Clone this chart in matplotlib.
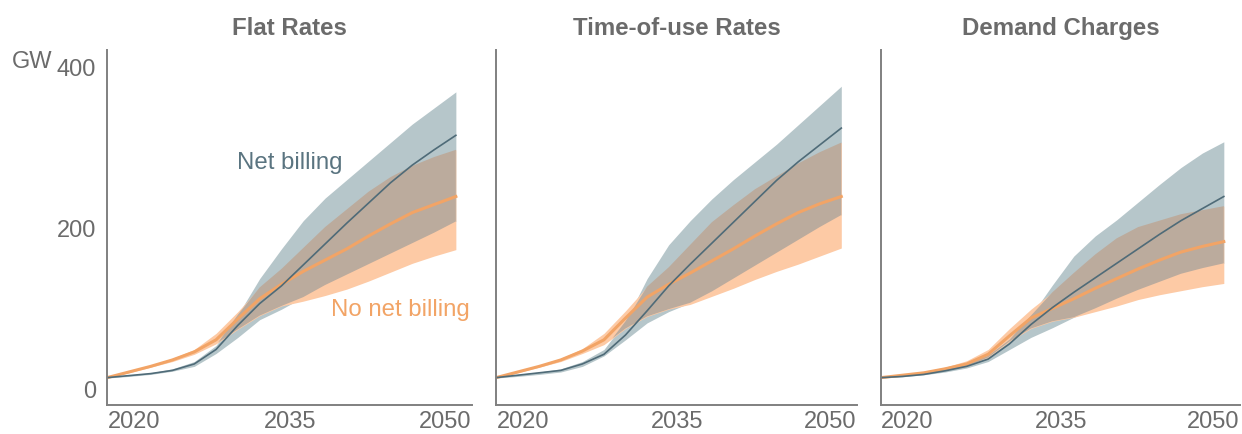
import numpy as np
import matplotlib
matplotlib.use("Agg")
import matplotlib.pyplot as plt
import matplotlib.transforms as mtransforms

plt.rcParams['font.family'] = ['Liberation Sans', 'DejaVu Sans']

years = [2018, 2020, 2022, 2024, 2026, 2028, 2030, 2032, 2034,
         2036, 2038, 2040, 2042, 2044, 2046, 2048, 2050]

titles = ["Flat Rates", "Time-of-use Rates", "Demand Charges"]

# net billing: median line and range (GW)
flat_net_mid = [15, 17.5, 20, 24, 32, 50, 80, 107, 129, 155, 181, 207, 232, 257, 279, 298, 316]
flat_net_hi = [15.5, 18.5, 21, 26, 35, 55, 93, 138, 175, 210, 238, 261, 284, 307, 330, 350, 370]
flat_net_lo = [14.5, 16.5, 19, 23, 29, 45, 65, 87, 100, 115, 130, 143, 156, 169, 182, 195, 209]
# no net billing
flat_nonet_mid = [15, 22, 29, 37, 47, 62, 88, 113, 131, 147, 161, 175, 191, 206, 220, 230, 240]
flat_nonet_hi = [15.5, 23, 30.5, 39, 50, 70, 97, 127, 150, 176, 202, 224, 246, 264, 278, 289, 298]
flat_nonet_lo = [14.5, 21, 28, 35, 44, 57, 75, 92, 104, 110, 117, 125, 135, 146, 157, 166, 174]

tou_net_mid = [15, 18, 21, 24, 32, 44, 68, 98, 129, 156, 182, 208, 234, 260, 283, 304, 325]
tou_net_hi = [15.5, 19, 22, 26, 35, 50, 85, 138, 180, 210, 237, 261, 283, 305, 329, 353, 377]
tou_net_lo = [14.5, 16.5, 19, 22, 29, 42, 62, 83, 97, 108, 122, 138, 154, 170, 186, 202, 217]
tou_nonet_mid = [15, 22, 29, 37, 48, 62, 89, 115, 131, 145, 160, 175, 191, 206, 220, 231, 240]
tou_nonet_hi = [15.5, 23, 30.5, 39, 51, 70, 98, 128, 152, 180, 208, 229, 249, 265, 281, 295, 307]
tou_nonet_lo = [14.5, 21, 28, 35, 45, 56, 76, 91, 100, 106, 116, 126, 137, 147, 156, 166, 176]

dem_net_mid = [15, 16.5, 19, 23.5, 29, 38, 57, 81, 102, 121, 139, 157, 175, 193, 210, 225, 240]
dem_net_hi = [15.5, 17.5, 20, 25, 32, 42, 62, 92, 130, 166, 191, 211, 233, 255, 276, 294, 308]
dem_net_lo = [14.5, 16, 18.5, 22, 27, 35, 50, 65, 77, 90, 101, 113, 124, 134, 144, 151, 157]
dem_nonet_mid = [15, 18, 21, 26, 32, 44, 67, 89, 101, 113, 126, 138, 150, 161, 171, 178, 184]
dem_nonet_hi = [15.5, 19, 22.5, 28, 36, 50, 76, 100, 121, 145, 168, 188, 202, 210, 218, 223, 228]
dem_nonet_lo = [14.5, 17, 20, 24, 29, 40, 60, 76, 85, 90, 97, 104, 112, 118, 123, 128, 132]

panels = [
    (flat_net_mid, flat_net_lo, flat_net_hi, flat_nonet_mid, flat_nonet_lo, flat_nonet_hi),
    (tou_net_mid, tou_net_lo, tou_net_hi, tou_nonet_mid, tou_nonet_lo, tou_nonet_hi),
    (dem_net_mid, dem_net_lo, dem_net_hi, dem_nonet_mid, dem_nonet_lo, dem_nonet_hi),
]

GREY_BAND = "#b6c6ca"
PEACH_BAND = "#fdcaa5"
OVERLAP = "#bbab9d"
BLUE_LINE = "#4f6b78"
ORANGE_LINE = "#f2a466"
TXT = "#6b6b6b"

fig = plt.figure(figsize=(12.42, 4.34), dpi=100)
lefts = [0.0862, 0.3994, 0.7093]
widths = [0.294, 0.291, 0.289]
# small horizontal nudges (px) of the year labels, as in the original layout
label_shift = [5, -2, -11]

x = np.array(years)
for i, (nm, nl, nh, om, ol, oh) in enumerate(panels):
    ax = fig.add_axes([lefts[i], 0.0668, widths[i], 0.818])
    nl, nh, ol, oh = map(np.array, (nl, nh, ol, oh))
    ax.fill_between(x, nl, nh, color=GREY_BAND, lw=0)
    ax.fill_between(x, ol, oh, color=PEACH_BAND, lw=0)
    lo = np.maximum(nl, ol)
    hi = np.minimum(nh, oh)
    ax.fill_between(x, lo, hi, where=hi > lo, interpolate=True, color=OVERLAP, lw=0)
    ax.plot(x, om, color=ORANGE_LINE, lw=2.2)
    ax.plot(x, nm, color=BLUE_LINE, lw=1.2)

    ax.set_xlim(2018, 2051.5)
    ax.set_ylim(-19, 422)
    for s in ["top", "right"]:
        ax.spines[s].set_visible(False)
    for s in ["left", "bottom"]:
        ax.spines[s].set_color("#808080")
        ax.spines[s].set_linewidth(1.4)
    ax.set_xticks([2020, 2035, 2050])
    ax.tick_params(axis="x", length=0, pad=4, labelsize=17, labelcolor=TXT)
    for lab, dx in zip(ax.get_xticklabels(), label_shift):
        off = mtransforms.ScaledTranslation(dx / 100, 0, fig.dpi_scale_trans)
        lab.set_transform(lab.get_transform() + off)
    if i == 0:
        ax.set_yticks([0, 200, 400])
        ax.tick_params(axis="y", length=0, pad=8, labelsize=17, labelcolor=TXT)
    else:
        ax.set_yticks([])
    ax.set_title(titles[i], fontsize=17.3, fontweight="bold", color=TXT, pad=11)

    if i == 0:
        ax.text(2034.8, 282, "Net billing", ha="center", va="center",
                fontsize=17.3, color="#5a7480")
        ax.text(2044.9, 99, "No net billing", ha="center", va="center",
                fontsize=17.3, color=ORANGE_LINE)

fig.text(12 / 1242, 1 - 62 / 434, "GW", ha="left", va="center", fontsize=17, color=TXT)

fig.savefig("out.png", dpi=100)
